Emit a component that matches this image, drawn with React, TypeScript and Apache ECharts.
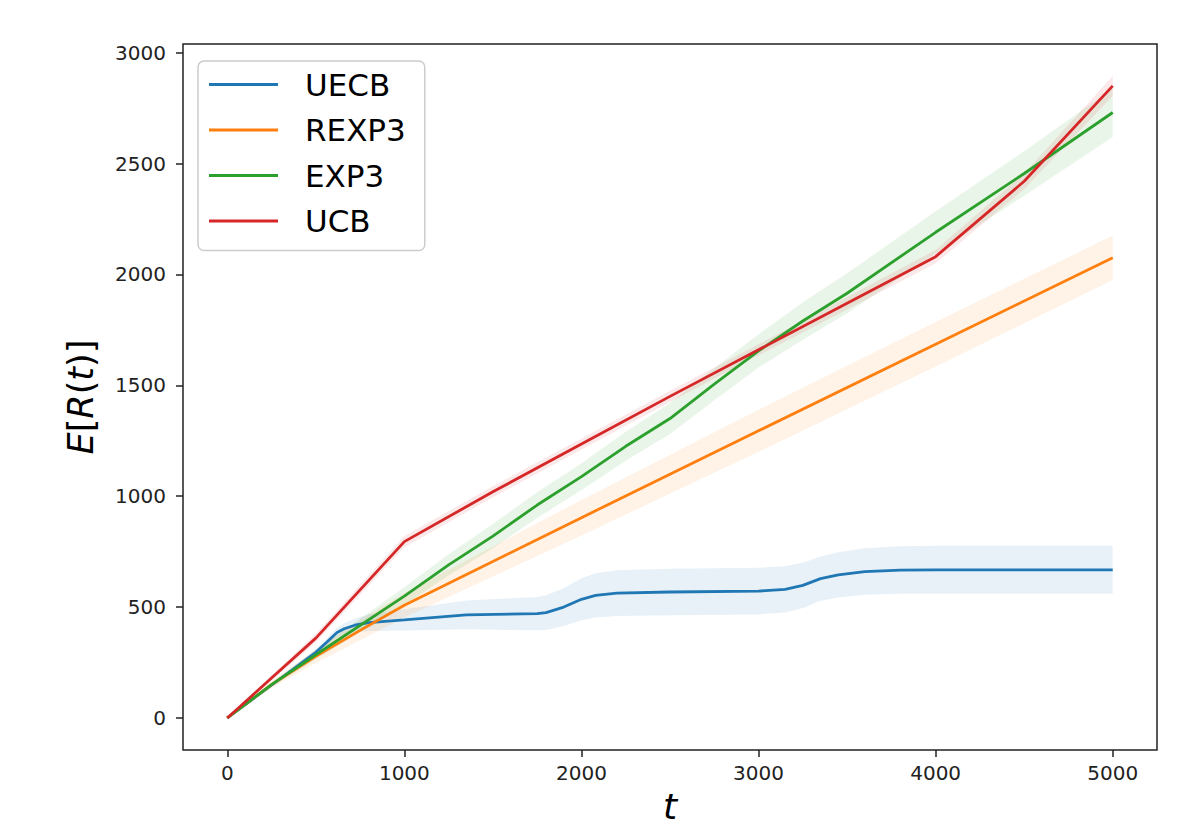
import React, { useEffect, useRef } from "react";
import * as echarts from "echarts";

// ---- data ----
const UECB_T = [0, 500, 560, 620, 660, 720, 800, 1000, 1350, 1750, 1800, 1900, 2000, 2080, 2200, 2500, 3000, 3150, 3250, 3350, 3450, 3600, 3800, 4000, 5000];
const UECB_MEAN = [0, 296, 340, 385, 402, 418, 430, 442, 465, 470, 475, 500, 535, 553, 563, 568, 572, 580, 598, 628, 645, 660, 667, 668, 668];
const UECB_STD = [0, 15, 18, 22, 25, 30, 38, 48, 65, 75, 78, 85, 95, 100, 103, 105, 105, 104, 102, 100, 102, 105, 107, 108, 108];

const REXP3_T = [0, 250, 500, 750, 1000, 2000, 3000, 4000, 5000];
const REXP3_MEAN = [0, 150, 278, 395, 508, 903, 1295, 1685, 2075];
const REXP3_STD = [0, 15, 30, 45, 55, 80, 95, 100, 100];

const EXP3_T = [0, 250, 500, 1000, 1250, 1500, 1750, 2000, 2250, 2500, 2750, 3000, 3250, 3500, 4000, 4500, 5000];
const EXP3_MEAN = [0, 150, 285, 549, 690, 820, 960, 1088, 1225, 1350, 1505, 1655, 1790, 1915, 2190, 2455, 2730];
const EXP3_STD = [0, 10, 20, 40, 48, 55, 58, 60, 65, 70, 72, 75, 85, 90, 95, 100, 110];

const UCB_T = [0, 250, 500, 1000, 1500, 2000, 2500, 3000, 3500, 4000, 4500, 5000];
const UCB_MEAN = [0, 180, 360, 795, 1020, 1235, 1450, 1660, 1870, 2080, 2420, 2850];
const UCB_STD = [0, 12, 20, 25, 25, 25, 25, 25, 28, 30, 35, 45];

const X_TICKS = [0, 1000, 2000, 3000, 4000, 5000];
const Y_TICKS = [0, 500, 1000, 1500, 2000, 2500, 3000];

const SERIES_DEF = [
  { name: "UECB", t: UECB_T, mean: UECB_MEAN, std: UECB_STD, color: "#1f77b4", band: "rgba(31,119,180,0.1)" },
  { name: "REXP3", t: REXP3_T, mean: REXP3_MEAN, std: REXP3_STD, color: "#ff7f0e", band: "rgba(255,127,14,0.1)" },
  { name: "EXP3", t: EXP3_T, mean: EXP3_MEAN, std: EXP3_STD, color: "#2ca02c", band: "rgba(44,160,44,0.1)" },
  { name: "UCB", t: UCB_T, mean: UCB_MEAN, std: UCB_STD, color: "#d62728", band: "rgba(214,39,40,0.1)" },
];

const FONT = "DejaVu Sans";

export default function App() {
  const ref = useRef<HTMLDivElement>(null);

  useEffect(() => {
    if (!ref.current) return;
    const chart = echarts.init(ref.current, undefined, { renderer: "svg" });

    const bandSeries = SERIES_DEF.map((s) => {
      const band = s.t.map((t, i) => [t, s.mean[i] - s.std[i], s.mean[i] + s.std[i]]);
      return {
        name: s.name + " band",
        type: "custom",
        z: 1,
        silent: true,
        encode: { x: 0, y: [1, 2] },
        data: band,
        renderItem: (params: any, api: any) => {
          if (params.dataIndex !== 0) return null;
          const upper = band.map((p) => api.coord([p[0], p[2]]));
          const lower = band.map((p) => api.coord([p[0], p[1]])).reverse();
          return {
            type: "polygon",
            shape: { points: upper.concat(lower) },
            style: { fill: s.band, stroke: "none" },
            silent: true,
          };
        },
      };
    });

    const lineSeries = SERIES_DEF.map((s) => ({
      name: s.name,
      type: "line",
      z: 3,
      data: s.t.map((t, i) => [t, s.mean[i]]),
      showSymbol: false,
      symbol: "none",
      smooth: false,
      color: s.color,
      lineStyle: { color: s.color, width: 2.8 },
      itemStyle: { color: s.color },
    }));

    const fmt = (v: number) => String(v);

    chart.setOption({
      animation: false,
      backgroundColor: "#ffffff",
      grid: {
        left: 183,
        top: 44,
        right: 29,
        bottom: 74,
        show: true,
        borderColor: "#222",
        borderWidth: 1.5,
        backgroundColor: "transparent",
      },
      legend: {
        data: SERIES_DEF.map((s) => s.name),
        orient: "vertical",
        left: 198,
        top: 61,
        padding: [8, 19, 14, 11],
        itemGap: 14.5,
        itemWidth: 69,
        itemHeight: 3,
        icon: "rect",
        backgroundColor: "rgba(255,255,255,0.8)",
        borderColor: "#cccccc",
        borderWidth: 1.5,
        borderRadius: 6,
        selectedMode: false,
        textStyle: {
          fontFamily: FONT,
          fontSize: 31,
          lineHeight: 31,
          color: "#000",
          padding: [0, 0, 0, 22],
        },
      },
      xAxis: {
        type: "value",
        min: -250,
        max: 5250,
        name: "t",
        nameLocation: "middle",
        nameGap: 35,
        nameTextStyle: { fontFamily: FONT, fontSize: 36, fontStyle: "italic", color: "#000" },
        axisLine: { show: false, onZero: false },
        axisTick: { show: true, length: 7, inside: false, customValues: X_TICKS, lineStyle: { color: "#222", width: 1.5 } },
        axisLabel: { customValues: X_TICKS, formatter: fmt, fontFamily: FONT, fontSize: 20, color: "#222", margin: 13 },
        splitLine: { show: false },
      },
      yAxis: {
        type: "value",
        min: -145,
        max: 3039,
        name: "{i|E}[{i|R}({i|t})]",
        nameLocation: "middle",
        nameGap: 85,
        nameTextStyle: {
          fontFamily: FONT,
          fontSize: 35,
          color: "#000",
          rich: {
            i: { fontFamily: FONT, fontSize: 35, fontStyle: "italic", color: "#000" },
          },
        },
        axisLine: { show: false, onZero: false },
        axisTick: { show: true, length: 7, inside: false, customValues: Y_TICKS, lineStyle: { color: "#222", width: 1.5 } },
        axisLabel: { customValues: Y_TICKS, formatter: fmt, fontFamily: FONT, fontSize: 20, color: "#222", margin: 17 },
        splitLine: { show: false },
      },
      series: [...bandSeries, ...lineSeries],
    });

    return () => chart.dispose();
  }, []);

  return (
    <div
      ref={ref}
      style={{ position: "fixed", left: 0, top: 0, width: 1186, height: 829, background: "#fff" }}
    />
  );
}
